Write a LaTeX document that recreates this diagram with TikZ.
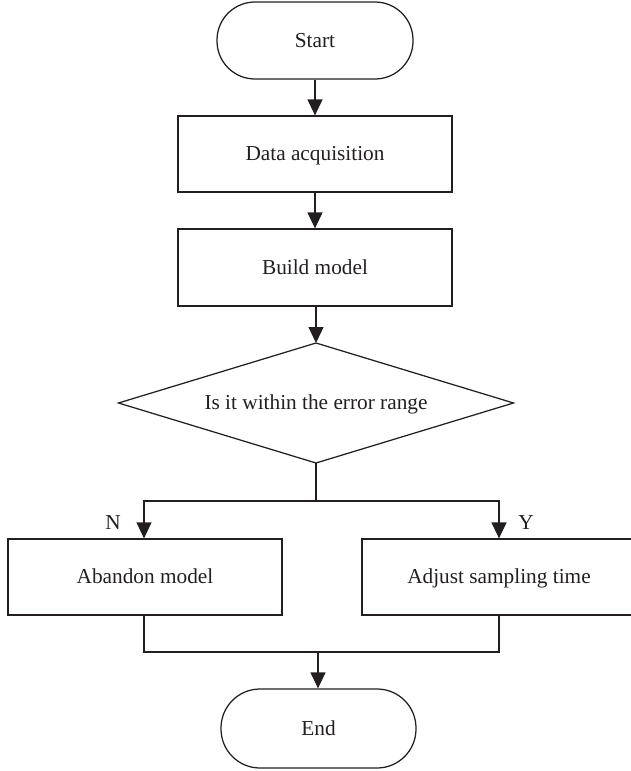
\documentclass[tikz,border=0pt]{standalone}
\usepackage{fontspec}
\setmainfont{Liberation Serif}
\usetikzlibrary{arrows.meta,shapes.geometric}
\definecolor{ink}{HTML}{231F20}
\begin{document}
\begin{tikzpicture}[x=1pt,y=-1pt,
  every node/.style={font=\fontsize{21.3}{25}\selectfont, text=ink, text height=17pt, text depth=4pt},
  line/.style={draw=ink, line width=1.25pt},
  arr/.style={line, -{Triangle[length=16pt,width=15pt]}},
  terminal/.style={line, rectangle, rounded corners=38pt, minimum width=196pt, minimum height=77pt, inner sep=0pt},
  process/.style={line, rectangle, minimum width=274pt, minimum height=76pt, inner sep=0pt},
  decision/.style={line, diamond, aspect=3.3, minimum width=395pt, minimum height=120pt, inner sep=0pt, outer sep=0pt}]
  \useasboundingbox (0,0) rectangle (631,771);
  \clip (0,0) rectangle (631,771);

  % main column
  \node[terminal] (start) at (315,40.5) {Start};
  \node[process] (data) at (315,154) {Data acquisition};
  \node[process, minimum height=77pt] (build) at (315,267.5) {Build model};
  \node[decision] (check) at (316,403) {Is it within the error range};

  % branches
  \node[process] (abandon) at (145,577) {Abandon model};
  \node[process] (adjust) at (499,577) {Adjust sampling time};
  \node[terminal, minimum width=195pt, minimum height=79pt, rounded corners=39pt] (finish) at (318.5,728.5) {End};

  % branch labels
  \node (nlab) at (113,523) {N};
  \node (ylab) at (526,523) {Y};

  % connectors
  \draw[arr] (start.south) -- (data.north);
  \draw[arr] (data.south) -- (build.north);
  \draw[arr] (build.south -| check.north) -- (check.north);

  \coordinate (split) at (316,501);
  \draw[line] (check.south) -- (split);
  \draw[arr] (split) -| (abandon.north -| 144,0);
  \draw[arr] (split) -| (adjust.north);

  \coordinate (join) at (318,652);
  \draw[line] (abandon.south -| 144,0) |- (join);
  \draw[line] (adjust.south) |- (join);
  \draw[arr] (join) -- (finish.north -| join);
\end{tikzpicture}
\end{document}
